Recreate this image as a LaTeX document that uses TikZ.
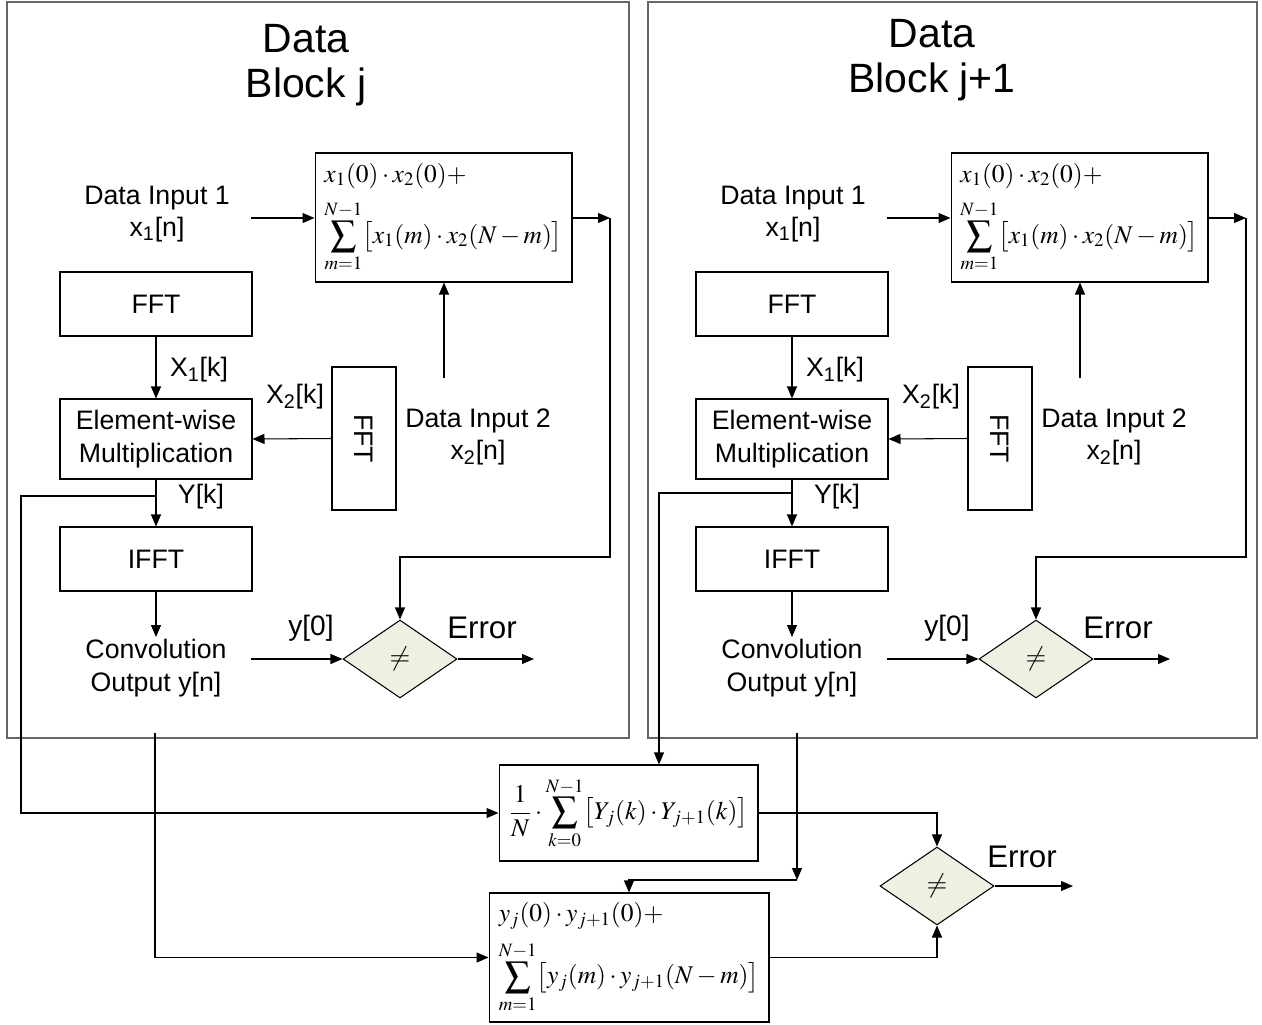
\documentclass[tikz,border=0pt]{standalone}
\usepackage{mathptmx}
\usepackage[no-math]{fontspec}
\setmainfont{Liberation Sans}
\usetikzlibrary{arrows.meta,shapes.geometric}
\definecolor{dfill}{RGB}{238,240,226}
\newcommand\lblfont{\fontsize{15.2}{18.4}\selectfont}
\newcommand\errfont{\fontsize{17.8}{20}\selectfont}
\newcommand\ttlfont{\fontsize{23.3}{25.5}\selectfont}
\newcommand\fmlfont{\fontsize{14.5}{17.5}\selectfont}
\tikzset{
  blk/.style={draw, line width=0.6pt, inner sep=0pt, font=\lblfont, align=center},
  fbox/.style={draw, line width=0.6pt, inner xsep=0.1cm, inner ysep=0.1cm, font=\fmlfont, align=left},
  txt/.style={inner sep=0pt, font=\lblfont, align=center},
  errl/.style={inner sep=0pt, font=\errfont},
  ttl/.style={inner sep=0pt, font=\ttlfont, align=center},
  conn/.style={line width=0.6pt},
  arr/.style={conn, -{Triangle[length=0.24cm,width=0.2cm]}},
  outer/.style={draw=black!60, line width=1.1pt},
  dia/.style={diamond, draw, line width=0.6pt, fill=dfill, inner sep=0pt, minimum width=2.28cm, minimum height=1.56cm, font=\lblfont},
}
\newcommand\myblock[2]{%
\begin{scope}[xshift=#2*0.02cm]
\node[fbox, minimum width=5.14cm, minimum height=2.58cm] (#1form) at (443.5,217.5)
  {$x_1(0)\cdot x_2(0)+$\\[6pt]$\displaystyle\sum_{m=1}^{N-1}\bigl[x_1(m)\cdot x_2(N-m)\bigr]$};
\node[txt] (#1in1) at (157,214) {Data Input 1\\x\textsubscript{1}[n]};
\node[blk, minimum width=3.84cm, minimum height=1.28cm] (#1fft) at (156,304) {FFT};
\node[blk, minimum width=3.84cm, minimum height=1.6cm] (#1mul) at (156,439) {Element-wise\\Multiplication};
\node[blk, minimum width=1.28cm, minimum height=2.86cm] (#1fftb) at (364,438.5) {\rotatebox{-90}{FFT}};
\node[blk, minimum width=3.84cm, minimum height=1.28cm] (#1ifft) at (156,559) {IFFT};
\node[txt] (#1conv) at (156,668) {Convolution\\Output y[n]};
\node[txt] (#1in2) at (478,437) {Data Input 2\\x\textsubscript{2}[n]};
\node[dia] (#1dia) at (400,659) {$\neq$};
\node[txt] (#1lxa) at (199,370) {X\textsubscript{1}[k]};
\node[txt] (#1lxb) at (295,397) {X\textsubscript{2}[k]};
\node[txt] (#1ly) at (201,497) {Y[k]};
\node[txt, font=\fontsize{16}{18}\selectfont] (#1lyz) at (311,628) {y[0]};
\node[errl] (#1err) at (482,628) {Error};
\coordinate (#1a) at (251,218);
\coordinate (#1b) at (610,218);
\coordinate (#1c) at (400,557);
\coordinate (#1d) at (444,378);
\coordinate (#1e) at (251,659);
\coordinate (#1f) at (534,659);
\coordinate (#1g) at (156,637);
\draw[arr] (#1a) -- (#1form.west |- #1a);
\draw[arr] (#1form.east |- #1a) -- (#1b);
\draw[arr] (#1b) |- (#1c) -- (#1dia.north);
\draw[arr] (#1fft.south) -- (#1mul.north);
\draw[arr] (#1fftb.west) -- (#1mul.east);
\draw[arr] (#1d) -- (#1form.south -| #1d);
\draw[arr] (#1mul.south) -- (#1ifft.north);
\draw[arr] (#1ifft.south) -- (#1g);
\draw[arr] (#1e) -- (#1dia.west);
\draw[arr] (#1dia.east) -- (#1f);
\end{scope}}
\begin{document}
\begin{tikzpicture}[x=0.02cm,y=-0.02cm]
\useasboundingbox (0,0) rectangle (1262,1025);
\draw[outer] (7,2) rectangle (629,738);
\draw[outer] (648,2) rectangle (1257,738);
\node[ttl] (Lt) at (306,65) {Data\\Block j};
\node[ttl] (Rt) at (932,60) {Data\\Block j+1};
\myblock{L}{0}
\myblock{R}{636}
% bottom part
\node[fbox, align=center, minimum width=5.18cm, minimum height=1.92cm] (ybox) at (628.5,813)
  {$\displaystyle\frac{1}{N}\cdot\sum_{k=0}^{N-1}\bigl[Y_j(k)\cdot Y_{j+1}(k)\bigr]$};
\node[fbox, minimum width=5.6cm, minimum height=2.58cm] (bot) at (629,957.5)
  {$y_j(0)\cdot y_{j+1}(0)+$\\[6pt]$\displaystyle\sum_{m=1}^{N-1}\bigl[y_j(m)\cdot y_{j+1}(N-m)\bigr]$};
\node[dia] (dia2) at (937,886) {$\neq$};
\node[errl] (err2) at (1022,857) {Error};
\coordinate (Lyk) at (156,496);
\coordinate (Lyl) at (21,496);
\coordinate (Ryk) at (792,493);
\coordinate (Ryl) at (659,493);
\coordinate (Lcv) at (155,733);
\coordinate (Rcv) at (797,733);
\coordinate (Rcc) at (797,880);
\coordinate (Rcd) at (629,880);
\coordinate (eo) at (1073,886);
\draw[arr] (Lyk) -- (Lyl) |- (ybox.west);
\draw[arr] (Ryk) -- (Ryl) -- (Ryl |- ybox.north);
\draw[arr] (Lcv) |- (bot.west);
\draw[arr] (Rcv) -- (Rcc);
\draw[arr] (Rcc) -- (Rcd) -- (bot.north);
\draw[arr] (ybox.east) -| (dia2.north);
\draw[arr] (bot.east) -| (dia2.south);
\draw[arr] (dia2.east) -- (eo);
\end{tikzpicture}
\end{document}
